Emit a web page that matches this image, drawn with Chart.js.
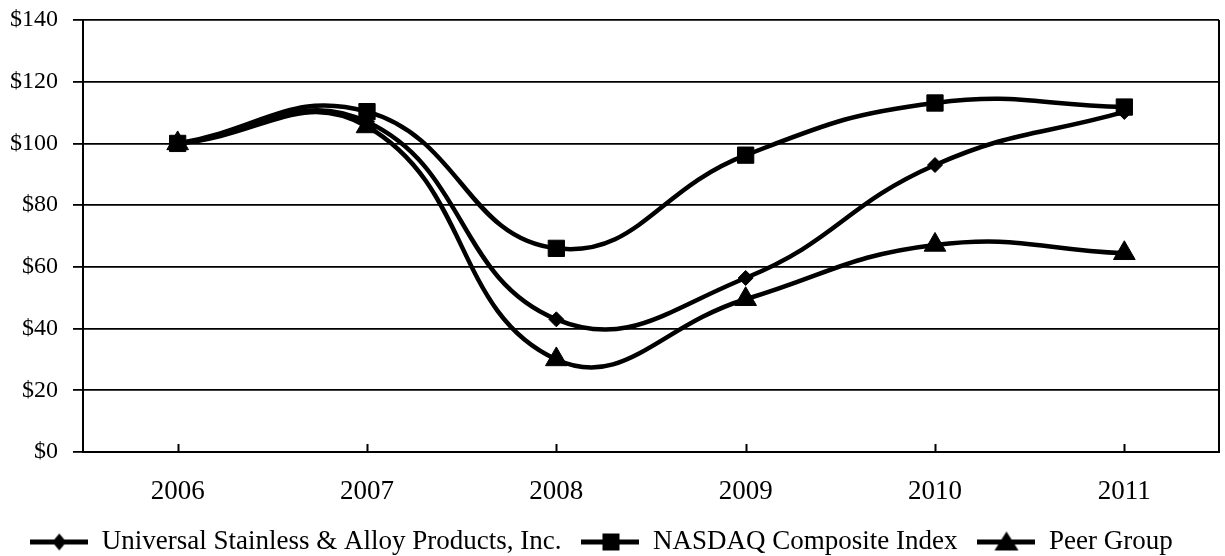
<!DOCTYPE html>
<html>
<head>
<meta charset="utf-8">
<script src="https://cdn.jsdelivr.net/npm/chart.js@4"></script>
<style>
  html, body { margin: 0; padding: 0; background: #fff; }
  #wrap { width: 1225px; height: 556px; }
</style>
</head>
<body>
<div id="wrap"><canvas id="chart" width="1225" height="556"></canvas></div>
<script>
// chart values
const years = ['2006', '2007', '2008', '2009', '2010', '2011'];
const universal = [100, 107, 43, 56.4, 93, 110.2];
const nasdaq = [100, 110.3, 66, 96.2, 113.1, 111.8];
const peer = [100, 105.5, 30, 49.5, 67.1, 64.4];
const yTicks = [0, 20, 40, 60, 80, 100, 120, 140];

const seriesNames = ['Universal Stainless & Alloy Products, Inc.', 'NASDAQ Composite Index', 'Peer Group'];
const FONT = 'Liberation Serif';

// little canvas for the legend: a line with the marker in the middle
function makeIcon(shape) {
    const c = document.createElement('canvas');
    c.width = 58;
    c.height = 26;
    const g = c.getContext('2d');
    g.fillStyle = '#000';
    g.fillRect(0, 11, 58, 5);
    g.beginPath();
    if (shape === 'diamond') {
        g.moveTo(29, 5); g.lineTo(36, 13.5); g.lineTo(29, 22); g.lineTo(22, 13.5);
    } else if (shape === 'square') {
        g.rect(21, 5, 17, 17);
    } else {
        g.moveTo(29, 3); g.lineTo(41, 22); g.lineTo(17, 22);
    }
    g.closePath();
    g.fill();
    return c;
}
const icons = [makeIcon('diamond'), makeIcon('square'), makeIcon('triangle')];

// tick marks pointing into the plot on the x axis, and the right frame line
const framePlugin = {
    id: 'frame',
    afterInit(chart) {
        // keep the legend strip a fixed height
        const lg = chart.legend;
        if (lg) {
            const fit = lg.fit;
            lg.fit = function() { fit.call(this); this.height = 48; };
        }
    },
    afterLayout(chart) {
        // legend sits a bit left of centre in the original
        if (chart.legend) {
            chart.legend.left -= 8;
            chart.legend.right -= 8;
        }
    },
    afterDraw(chart) {
        const ctx = chart.ctx;
        const area = chart.chartArea;
        const xs = chart.scales.x;
        ctx.save();
        ctx.strokeStyle = '#000';
        ctx.lineWidth = 2;
        ctx.beginPath();
        xs.ticks.forEach((t, i) => {
            const x = Math.round(xs.getPixelForTick(i)) + 0.5;
            ctx.moveTo(x, area.bottom);
            ctx.lineTo(x, area.bottom - 8);
        });
        ctx.moveTo(area.right, area.top);
        ctx.lineTo(area.right, area.bottom);
        ctx.stroke();
        ctx.restore();
    }
};

function dataset(label, values, style, radius) {
    return {
        label: label,
        data: values,
        borderColor: '#000',
        backgroundColor: '#000',
        borderWidth: 4.5,
        tension: 0.45,
        pointStyle: style,
        pointRadius: radius,
        pointBorderWidth: 1,
        pointBackgroundColor: '#000',
        pointBorderColor: '#000',
        fill: false
    };
}

new Chart(document.getElementById('chart').getContext('2d'), {
    type: 'line',
    data: {
        labels: years,
        datasets: [
            dataset(seriesNames[0], universal, 'rectRot', 7.5),
            dataset(seriesNames[1], nasdaq, 'rect', 11.5),
            dataset(seriesNames[2], peer, 'triangle', 12.5)
        ]
    },
    options: {
        responsive: false,
        animation: false,
        layout: { autoPadding: false, padding: { top: 20, right: 6, left: 0, bottom: 0 } },
        scales: {
            x: {
                offset: true,
                afterFit: scale => {
                    scale.height = 56;
                    scale.paddingLeft = 0;
                    scale.paddingRight = 0;
                },
                grid: { display: true, drawOnChartArea: false, drawTicks: false },
                border: { display: true, color: '#000', width: 2 },
                ticks: { color: '#000', padding: 24, font: { family: FONT, size: 27 } }
            },
            y: {
                min: 0,
                max: 140,
                afterBuildTicks: scale => { scale.ticks = yTicks.map(v => ({ value: v })); },
                afterFit: scale => {
                    scale.width = 83;
                    scale.paddingTop = 0;
                    scale.paddingBottom = 0;
                },
                grid: { color: '#000', lineWidth: 1.8, tickLength: 10, tickColor: '#000' },
                border: { display: true, color: '#000', width: 2 },
                ticks: {
                    color: '#000',
                    padding: 15,
                    font: { family: FONT, size: 24 },
                    callback: v => '$' + v
                }
            }
        },
        plugins: {
            legend: {
                position: 'bottom',
                labels: {
                    usePointStyle: true,
                    pointStyleWidth: 58,
                    padding: 20,
                    color: '#000',
                    font: { family: FONT, size: 27 },
                    generateLabels: chart => chart.data.datasets.map((ds, i) => ({
                        text: ds.label,
                        pointStyle: icons[i],
                        fillStyle: '#000',
                        strokeStyle: '#000',
                        lineWidth: 0,
                        hidden: false,
                        datasetIndex: i,
                        fontColor: '#000'
                    }))
                }
            },
            tooltip: { enabled: false }
        }
    },
    plugins: [framePlugin]
});
</script>
</body>
</html>
